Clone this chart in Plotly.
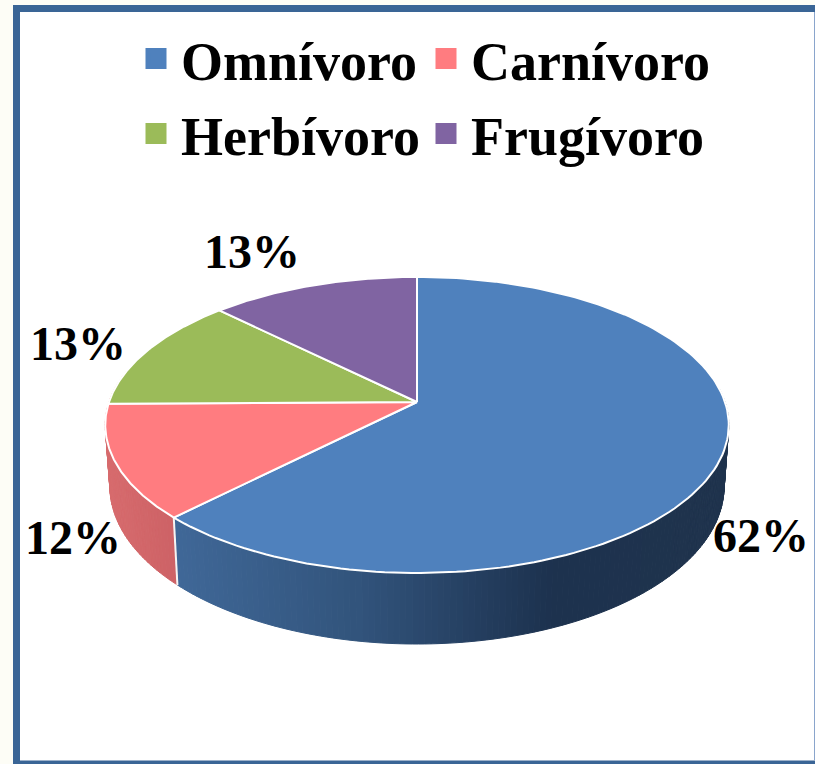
import numpy as np
import plotly.graph_objects as go

categories = ["Omnívoro", "Carnívoro", "Herbívoro", "Frugívoro"]
values = [62.4, 12.4, 12.6, 12.6]
labels = ["62%", "12%", "13%", "13%"]
colors = ["#4f81bd", "#ff7c80", "#9bbb59", "#8064a2"]

W, H = 815, 764
CX, CY, RX, RY, K = 417, 402, 308, 144.5, 0.155
DEPTH, BOTTOM_X = 60, 0.985
LABEL_POS = [(761, 535), (73, 537), (78, 343), (252, 251)]
WALL_STOPS = {
    0: [(177, (64, 104, 152)), (360, (50, 84, 124)), (550, (29, 50, 79)), (730, (32, 52, 77))],
    1: [(105, (216, 108, 110)), (177, (205, 98, 102))],
}


def project(deg, r=1.0, bottom=False):
    t = np.radians(deg)
    u, v = r * np.sin(t), -r * np.cos(t)
    w = 1 - K * v
    x = RX * u / w
    y = RY * v / w
    if bottom:
        return CX + x * BOTTOM_X, CY + y + DEPTH / w
    return CX + x, CY + y


edges = np.concatenate([[0], np.cumsum(values)]) * 3.6


def wall_color(i, x):
    stops = WALL_STOPS[i]
    xs = [s[0] for s in stops]
    rgb = [int(np.interp(x, xs, [s[1][c] for s in stops])) for c in range(3)]
    return "rgb(%d,%d,%d)" % tuple(rgb)


fig = go.Figure()

# side wall, split into thin strips to carry the gradient
for i in (0, 1):
    a0, a1 = edges[i], edges[i + 1]
    a0 = max(a0, 85)
    a1 = a1 if i == 0 else a1 + 14
    steps = np.linspace(a0, a1, int((a1 - a0) / 1.0) + 2)
    for s0, s1 in zip(steps[:-1], steps[1:]):
        ang = np.array([s0, s1])
        tx, ty = project(ang)
        bx, by = project(ang, bottom=True)
        xs = np.concatenate([tx, bx[::-1], tx[:1]])
        ys = np.concatenate([ty, by[::-1], ty[:1]])
        col = wall_color(i, xs.mean())
        fig.add_trace(go.Scatter(x=xs, y=ys, mode="lines", fill="toself", fillcolor=col,
                                 line=dict(color=col, width=1), showlegend=False, hoverinfo="skip"))

# white seam between the two visible walls
sx0, sy0 = project(edges[1])
sx1, sy1 = project(edges[1], bottom=True)
fig.add_trace(go.Scatter(x=[sx0, sx1], y=[sy0, sy1], mode="lines",
                         line=dict(color="#f4f4f4", width=2), showlegend=False, hoverinfo="skip"))

# top face
for i, name in enumerate(categories):
    ang = np.linspace(edges[i], edges[i + 1], 160)
    ex, ey = project(ang)
    xs = np.concatenate([[CX], ex, [CX]])
    ys = np.concatenate([[CY], ey, [CY]])
    fig.add_trace(go.Scatter(x=xs, y=ys, mode="lines", fill="toself", fillcolor=colors[i],
                             line=dict(color="white", width=2), name=name,
                             showlegend=False, hoverinfo="text", text=f"{name}: {labels[i]}"))

# legend entries: one legend per row
for i, name in enumerate(categories):
    fig.add_trace(go.Scatter(x=[None], y=[None], mode="markers", name=name,
                             legend="legend" if i < 2 else "legend2",
                             marker=dict(symbol="square", size=16, color=colors[i],
                                         line=dict(width=5, color=colors[i]))))

serif = "Liberation Serif"
for (lx, ly), t in zip(LABEL_POS, labels):
    fig.add_annotation(x=lx, y=ly, xref="x", yref="y", text=f"<b>{t}</b>", showarrow=False,
                       font=dict(family=serif, size=48, color="black"))

fig.add_shape(type="rect", xref="x", yref="y", x0=16.5, y0=8.5, x1=W + 6, y1=H + 1,
              line=dict(color="#3a6596", width=7), fillcolor="white", layer="below")
fig.add_shape(type="line", xref="x", yref="y", x0=814.5, y0=12, x1=814.5, y1=760,
              line=dict(color="#8aa5cc", width=1), layer="above")
fig.add_shape(type="line", xref="x", yref="y", x0=20, y0=762.5, x1=W, y1=762.5,
              line=dict(color="#3a6596", width=4), layer="above")

legend_base = dict(orientation="h", xanchor="left", yanchor="top", xref="paper", yref="paper",
                   entrywidth=235, entrywidthmode="pixels", itemsizing="trace", itemwidth=40,
                   font=dict(family=serif, size=54, color="black", weight="bold"),
                   bgcolor="rgba(0,0,0,0)", traceorder="normal", borderwidth=0)

fig.update_layout(
    width=W, height=H, margin=dict(l=0, r=0, t=0, b=0), autosize=False,
    paper_bgcolor="#fdfdf6", plot_bgcolor="rgba(0,0,0,0)",
    xaxis=dict(range=[0, W], visible=False, fixedrange=True),
    yaxis=dict(range=[H, 0], visible=False, fixedrange=True),
    legend=dict(legend_base, x=131 / W, y=1 - 17 / H),
    legend2=dict(legend_base, x=131 / W, y=1 - 92 / H),
)
fig.write_html("out.html", config={"displayModeBar": False},
               post_script="document.body.style.margin='0';document.body.style.overflow='hidden';")
